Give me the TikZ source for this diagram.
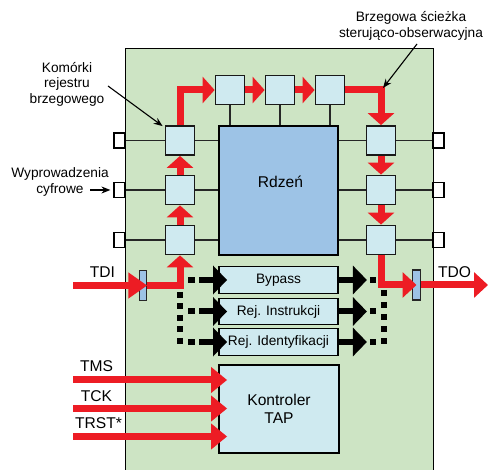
\documentclass[tikz,border=0pt]{standalone}
\usepackage{fontspec}
\setmainfont{Liberation Sans}
\usetikzlibrary{arrows.meta,calc}
\definecolor{jred}{RGB}{237,28,36}
\definecolor{jgreen}{RGB}{205,228,196}
\definecolor{jcell}{RGB}{207,234,240}
\definecolor{jcore}{RGB}{157,195,230}
\newcommand\smallf{\fontsize{13.7pt}{15.5pt}\selectfont}
\newcommand\bigf{\fontsize{15.6pt}{18pt}\selectfont}
\begin{document}
\begin{tikzpicture}[x=1pt,y=-1pt,
  cell/.style={draw=black!90, line width=1.8pt, fill=jcell, minimum width=29pt, minimum height=29pt, inner sep=0pt},
  pin/.style={draw=black, line width=1.2pt, fill=white, minimum width=11pt, minimum height=15pt, inner sep=0pt},
  wire/.style={line width=1.3pt, draw=black!85},
  block/.style={draw=black, line width=1.8pt, fill=jcell, inner sep=0pt, minimum width=119pt, font=\smallf},
  bar/.style={draw=black!85, line width=1.5pt, fill=jcore, minimum width=7pt, minimum height=30pt, inner sep=0pt},
  redarr/.style={draw=jred, line width=7pt, -{Triangle[length=12pt,width=26pt]}},
  redlong/.style={draw=jred, line width=7pt, -{Triangle[length=16pt,width=25pt]}},
  blkarr/.style={draw=black, line width=6pt, -{Triangle[length=14pt,width=28pt]}},
  dotseg/.style={draw=black, line width=6pt},
  dotbus/.style={draw=black, line width=6pt, dash pattern=on 6pt off 5.5pt},
  lblarr/.style={draw=black, line width=1.1pt, -{Stealth[length=9pt,width=7pt]}},
  lbl/.style={font=\smallf, align=center, inner sep=0pt},
  biglbl/.style={font=\bigf, inner sep=0pt, anchor=base}
]
\useasboundingbox (0,0) rectangle (488,470);
% chip
\node[draw=black, line width=1.3pt, fill=jgreen, minimum width=308pt, minimum height=440pt, anchor=north west, inner sep=0pt] (chip) at (125,48) {};
% pins
\node[pin] (pl1) at (119.5,140.5) {};
\node[pin] (pl2) at (119.5,190) {};
\node[pin] (pl3) at (119.5,240) {};
\node[pin] (pr1) at (438.5,140.5) {};
\node[pin] (pr2) at (438.5,190) {};
\node[pin] (pr3) at (438.5,240) {};
% core
\node[draw=black, line width=1.8pt, fill=jcore, minimum width=119pt, minimum height=129pt, inner sep=0pt] (core) at (278.5,190.5) {};
\node[biglbl] (rdz) at (280.5,188) {Rdzeń};
% cells
\node[cell] (L1) at (180,140.5) {};
\node[cell] (L2) at (180,190) {};
\node[cell] (L3) at (180,240) {};
\node[cell] (T1) at (230,90) {};
\node[cell] (T2) at (280,90) {};
\node[cell] (T3) at (330,90) {};
\node[cell] (R1) at (381,140.5) {};
\node[cell] (R2) at (381,190) {};
\node[cell] (R3) at (381,240) {};
% wires
\draw[wire] (pl1.east) -- (L1.west);
\draw[wire] (pl2.east) -- (L2.west);
\draw[wire] (pl3.east) -- (L3.west);
\draw[wire] (L1.east) -- (L1.east -| core.west);
\draw[wire] (L2.east) -- (L2.east -| core.west);
\draw[wire] (L3.east) -- (L3.east -| core.west);
\draw[wire] (R1.west -| core.east) -- (R1.west);
\draw[wire] (R2.west -| core.east) -- (R2.west);
\draw[wire] (R3.west -| core.east) -- (R3.west);
\draw[wire] (R1.east) -- (pr1.west);
\draw[wire] (R2.east) -- (pr2.west);
\draw[wire] (R3.east) -- (pr3.west);
\draw[wire] (T1.south) -- (T1.south |- core.north);
\draw[wire] (T2.south) -- (T2.south |- core.north);
\draw[wire] (T3.south) -- (T3.south |- core.north);
% registers
\node[block, minimum height=27pt] (byp) at (278.5,280) {Bypass};
\node[block, minimum height=26pt] (ins) at (278.5,311.5) {Rej. Instrukcji};
\node[block, minimum height=27pt] (ide) at (278.5,342) {Rej. Identyfikacji};
\node[block, minimum width=120pt, minimum height=88pt, font=\bigf, align=center] (tap) at (279,409) {Kontroler\\TAP};
% bars
\node[bar] (tdib) at (143,285.5) {};
\node[bar, minimum width=8pt, minimum height=30pt] (tdob) at (416.5,285) {};
% red boundary scan path
\coordinate (tdiin) at (73,285.5);
\coordinate (tdoout) at (488,285);
\draw[draw=jred, line width=7pt, -{Triangle[length=19pt,width=25pt]}] (tdiin) -- (tdib.east);
\draw[redarr] (tdib.east) -| (L3.south);
\draw[redarr] (L3.north) -- (L2.south);
\draw[redarr] (L2.north) -- (L1.south);
\draw[redarr] (L1.north) |- (T1.west);
\draw[redarr] (T1.east) -- (T2.west);
\draw[redarr] (T2.east) -- (T3.west);
\draw[redarr] (T3.east) -| (R1.north);
\draw[redarr] (R1.south) -- (R2.north);
\draw[redarr] (R2.south) -- (R3.north);
\draw[draw=jred, line width=7pt, -{Triangle[length=14pt,width=25pt]}] (R3.south) |- (tdob.center);
\draw[draw=jred, line width=7pt, -{Triangle[length=14pt,width=25pt]}] (tdob.east) -- (tdoout);
% TAP inputs
\coordinate (tmsin) at (73,380);
\coordinate (tckin) at (73,408.5);
\coordinate (trstin) at (73,436.5);
\draw[redlong] (tmsin) -- (tmsin -| {$(tap.west)+(9,0)$});
\draw[redlong] (tckin) -- (tckin -| {$(tap.west)+(9,0)$});
\draw[redlong] (trstin) -- (trstin -| {$(tap.west)+(9,0)$});
% black register connectors
\foreach \r in {byp,ins,ide}{
  \draw[blkarr] ($(\r.west)+(-19,0)$) -- ($(\r.west)+(9,0)$);
  \draw[dotseg] ($(\r.west)+(-30,0)$) -- ($(\r.west)+(-23,0)$);
  \draw[blkarr] ($(\r.east)+(-2,0)$) -- ($(\r.east)+(28,0)$);
  \draw[dotseg] ($(\r.east)+(31,0)$) -- ($(\r.east)+(37,0)$);
}
\coordinate (lbusT) at (180,292);
\coordinate (lbusB) at (180,344);
\coordinate (rbusT) at (383.5,290);
\coordinate (rbusB) at (383.5,344);
\draw[dotbus] (lbusT) -- (lbusB);
\draw[draw=black, line width=6pt, dash pattern=on 6pt off 6pt] (rbusT) -- (rbusB);
% labels
\node[biglbl] (tdi) at (102.5,278) {TDI};
\node[biglbl] (tdo) at (454.5,278) {TDO};
\node[biglbl] (tms) at (96.5,372) {TMS};
\node[biglbl] (tck) at (96.5,402) {TCK};
\node[biglbl] (trst) at (98.5,429) {TRST*};
\node[lbl] (kom) at (67,84) {Komórki\\rejestru\\brzegowego};
\node[lbl] (brz) at (411,26) {Brzegowa ścieżka\\sterująco-obserwacyjna};
\node[lbl] (wyp) at (60,182) {Wyprowadzenia\\cyfrowe};
\coordinate (komA) at (108,86);
\coordinate (brzA) at (417,44);
\coordinate (wypA) at (90,190);
\draw[lblarr] (komA) -- ($(L1.north west)+(-2,1)$);
\draw[lblarr] (brzA) -- ($(T3.east -| R1.north)+(2,-2)$);
\draw[lblarr] (wypA) -- ($(pl2.west)+(-3,0)$);
\end{tikzpicture}
\end{document}
